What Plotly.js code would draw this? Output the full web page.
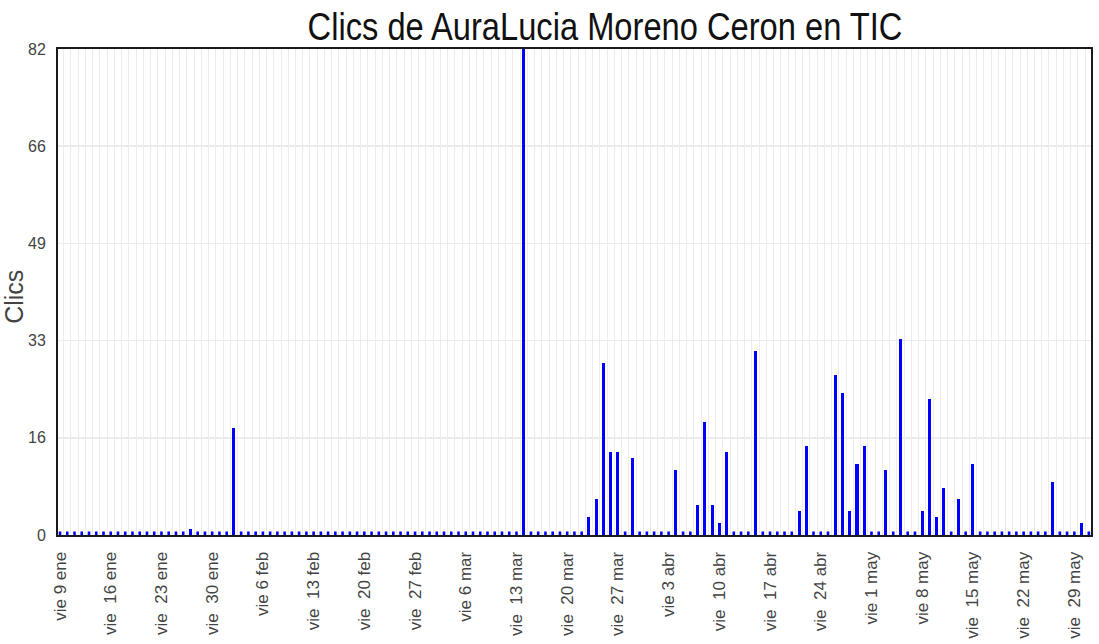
<!DOCTYPE html>
<html>
<head>
<meta charset="utf-8">
<script src="https://cdn.plot.ly/plotly-3.0.1.min.js"></script>
<style>
  html, body { margin: 0; padding: 0; background: #fff; }
  #chart { width: 1099px; height: 644px; }
</style>
</head>
<body>
<div id="chart"></div>
<script>
// ---- data ----
const startDate = '2015-01-09';
const endDate = '2015-05-31';
const clickDates = ['2015-01-27','2015-02-02','2015-03-14','2015-03-23','2015-03-24','2015-03-25','2015-03-26','2015-03-27','2015-03-29','2015-04-04','2015-04-07','2015-04-08','2015-04-09','2015-04-10','2015-04-11','2015-04-15','2015-04-21','2015-04-22','2015-04-26','2015-04-27','2015-04-28','2015-04-29','2015-04-30','2015-05-03','2015-05-05','2015-05-08','2015-05-09','2015-05-10','2015-05-11','2015-05-13','2015-05-15','2015-05-26','2015-05-30'];
const clickValues = [1,18,82,3,6,29,14,14,13,11,5,19,5,2,14,31,4,15,27,24,4,12,15,11,33,4,23,3,8,6,12,9,2];
const tickDates = ['2015-01-09','2015-01-16','2015-01-23','2015-01-30','2015-02-06','2015-02-13','2015-02-20','2015-02-27','2015-03-06','2015-03-13','2015-03-20','2015-03-27','2015-04-03','2015-04-10','2015-04-17','2015-04-24','2015-05-01','2015-05-08','2015-05-15','2015-05-22','2015-05-29'];
const tickLabels = ['vie 9 ene','vie  16 ene','vie  23 ene','vie  30 ene','vie 6 feb','vie  13 feb','vie  20 feb','vie  27 feb','vie 6 mar','vie  13 mar','vie  20 mar','vie  27 mar','vie 3 abr','vie  10 abr','vie  17 abr','vie  24 abr','vie 1 may','vie 8 may','vie  15 may','vie  22 may','vie  29 may'];
const yMax = 82;
const titleText = 'Clics de AuraLucia Moreno Ceron en TIC';
const yTitleText = 'Clics';

// ---- build full daily series (days without clicks are 0) ----
const DAY = 86400000;
const allDays = [];
for (let t = Date.parse(startDate + 'T00:00:00Z'); t <= Date.parse(endDate + 'T00:00:00Z'); t += DAY) {
  allDays.push(new Date(t).toISOString().slice(0, 10));
}
const valueByDate = {};
clickDates.forEach((d, i) => { valueByDate[d] = clickValues[i]; });
const allValues = allDays.map(d => valueByDate[d] || 0);
const zeroDays = allDays.filter((d, i) => allValues[i] === 0);
const zeroVals = zeroDays.map(() => 0);

const yTickVals = [0, 1, 2, 3, 4, 5].map(i => i * yMax / 5);
const yTickText = yTickVals.map(v => String(Math.round(v)));
const xTickText = tickLabels.map(s => s.replace(/  /g, '\u00a0 '));

const traces = [
  {
    type: 'bar', x: allDays, y: allValues,
    width: allDays.map(() => 0.42 * DAY),
    marker: { color: '#0000ff', line: { width: 0 } },
    hoverinfo: 'x+y'
  },
  {
    type: 'scatter', mode: 'markers', x: zeroDays, y: zeroVals,
    marker: { symbol: 'line-ns', size: 5, color: '#0000ff', line: { color: '#0000ff', width: 2.6 } },
    hoverinfo: 'skip'
  }
];

const layout = {
  width: 1099, height: 644,
  margin: { l: 58, r: 8, t: 49, b: 109, pad: 0 },
  paper_bgcolor: '#ffffff', plot_bgcolor: '#ffffff',
  showlegend: false,
  bargap: 0,
  title: {
    text: titleText,
    font: { family: '"Liberation Sans", Arial, sans-serif', size: 38, color: '#111111' },
    xref: 'container', x: 605 / 1099, xanchor: 'center',
    yref: 'container', y: 1 - 27 / 644, yanchor: 'middle'
  },
  xaxis: {
    type: 'date',
    range: ['2015-01-08 17:17', '2015-05-31 07:12'],
    tickmode: 'array', tickvals: tickDates, ticktext: xTickText,
    tickangle: -90,
    ticks: '', showgrid: false, zeroline: false,
    ticklabelstandoff: 8,
    tickfont: { family: '"Liberation Sans", Arial, sans-serif', size: 17, color: '#444444' },
    showline: true, linecolor: '#1a1a1a', linewidth: 2, mirror: true,
    minor: { tick0: '2015-01-09 12:00', dtick: DAY, showgrid: true, gridcolor: '#ececec', gridwidth: 1, ticks: '' },
    fixedrange: true
  },
  yaxis: {
    range: [0, yMax],
    tickmode: 'array', tickvals: yTickVals, ticktext: yTickText,
    ticks: '', showgrid: true, gridcolor: '#ececec', gridwidth: 1.5, zeroline: false,
    ticklabelstandoff: 7,
    tickfont: { family: '"Liberation Sans", Arial, sans-serif', size: 16, color: '#444444' },
    showline: true, linecolor: '#1a1a1a', linewidth: 2, mirror: true,
    fixedrange: true
  },
  annotations: [{
    text: yTitleText, textangle: -90,
    xref: 'paper', yref: 'paper',
    x: (30 - 58) / 1033, xanchor: 'right',
    y: 0.49, yanchor: 'middle',
    showarrow: false,
    font: { family: '"Liberation Sans", Arial, sans-serif', size: 25, color: '#444444' }
  }]
};

Plotly.newPlot('chart', traces, layout, { staticPlot: true, displayModeBar: false }).then(function (gd) {
  // the reference title is horizontally condensed; squeeze it around its centre
  const t = gd.querySelector('.gtitle');
  if (t) {
    const cx = parseFloat(t.getAttribute('x')) || (605);
    t.setAttribute('transform', 'translate(' + cx + ',0) scale(0.86,1) translate(' + (-cx) + ',0)');
  }
});
</script>
</body>
</html>
